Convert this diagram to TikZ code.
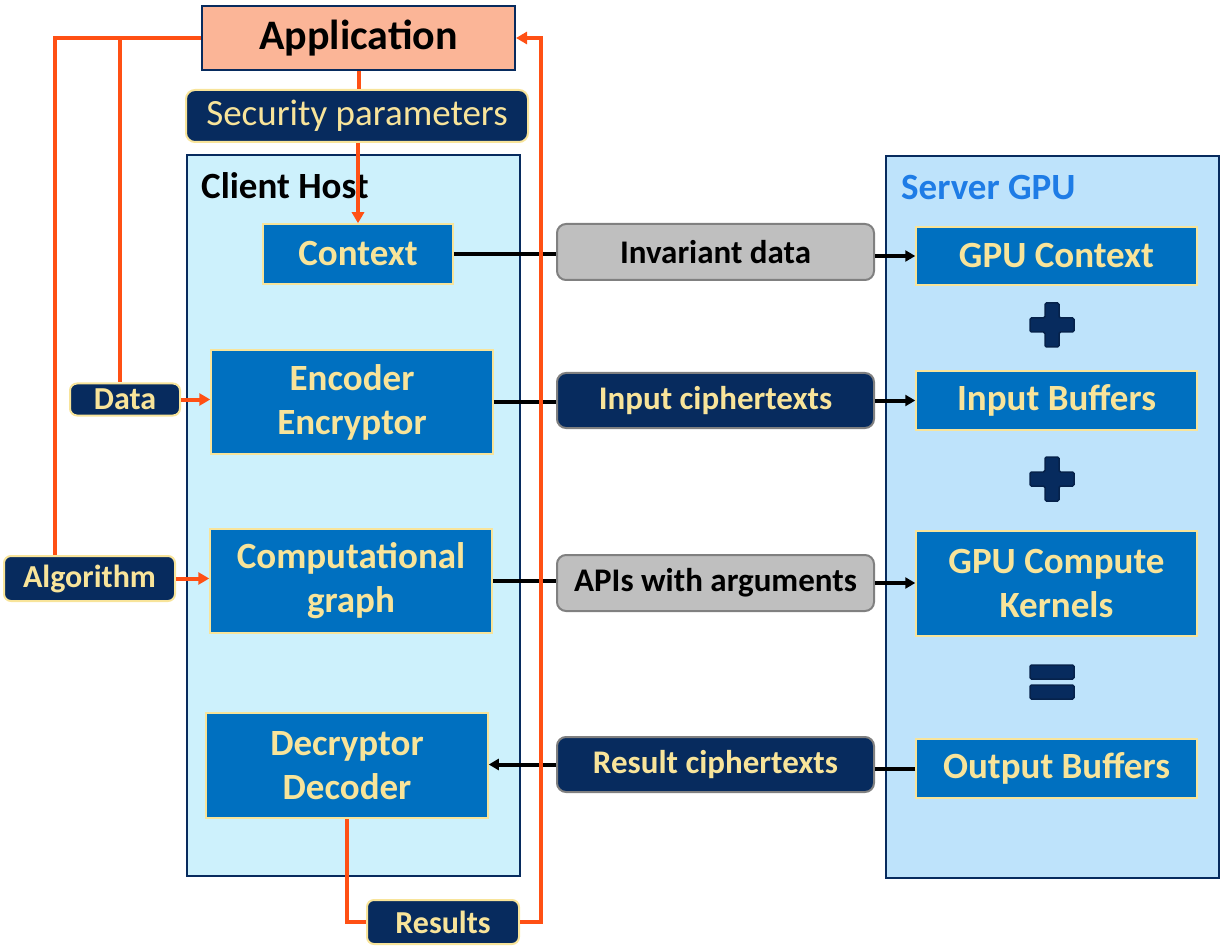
\documentclass[tikz,border=0pt]{standalone}
\usepackage{fontspec}
\setmainfont{Carlito}
\usetikzlibrary{arrows.meta,calc}
\definecolor{appfill}{HTML}{FBB597}
\definecolor{navy}{HTML}{072B5E}
\definecolor{ytext}{HTML}{F8E49A}
\definecolor{boxblue}{HTML}{0070C0}
\definecolor{clientfill}{HTML}{CDF1FC}
\definecolor{serverfill}{HTML}{BEE3FB}
\definecolor{srvlabel}{HTML}{1E7CE6}
\definecolor{orng}{HTML}{FF5014}
\definecolor{grayfill}{HTML}{BFBFBF}
\definecolor{grayline}{HTML}{808080}
\tikzset{
  bluebox/.style={draw=ytext, line width=1.5pt, fill=boxblue, text=ytext, font=\fontsize{37}{44}\selectfont\bfseries, align=center, inner sep=0pt, rectangle},
  tagbox/.style={draw=ytext, line width=2pt, fill=navy, text=ytext, font=\fontsize{32}{38}\selectfont\bfseries, rounded corners=7pt, inner sep=0pt},
  graypill/.style={draw=grayline, line width=2pt, fill=grayfill, text=black, font=\fontsize{33}{38}\selectfont\bfseries, rounded corners=9pt, inner sep=0pt},
  navypill/.style={draw=grayline, line width=2pt, fill=navy, text=ytext, font=\fontsize{33}{38}\selectfont\bfseries, rounded corners=9pt, inner sep=0pt},
  host/.style={draw=navy, line width=2pt, inner sep=0pt},
  oline/.style={draw=orng, line width=4pt},
  bline/.style={draw=black, line width=4pt},
  otip/.style={-{Triangle[length=11pt,width=12pt]}},
  btip/.style={-{Triangle[length=10pt,width=11pt]}},
}
\begin{document}
\begin{tikzpicture}[x=1pt,y=-1pt]
\useasboundingbox (0,0) rectangle (1226,949);

% containers
\node[host, fill=clientfill, minimum width=333pt, minimum height=721pt] (client) at (353.5,515.5) {};
\node[host, fill=serverfill, minimum width=333pt, minimum height=722pt] (server) at (1052.5,517) {};
\node[anchor=west, font=\fontsize{37}{44}\selectfont\bfseries, inner sep=0pt] (clientlbl) at (201,186) {Client Host};
\node[anchor=west, font=\fontsize{37}{44}\selectfont\bfseries, text=srvlabel, inner sep=0pt] (serverlbl) at (901,188) {Server GPU};

% top
\node[draw=navy, line width=2pt, fill=appfill, minimum width=313pt, minimum height=64pt, inner sep=0pt, font=\fontsize{42}{50}\selectfont\bfseries] (app) at (358.5,38) {Application};
\node[draw=ytext, line width=2pt, fill=navy, text=ytext, rounded corners=9pt, minimum width=342pt, minimum height=52pt, inner sep=0pt, font=\fontsize{37}{44}\selectfont] (secp) at (357,116) {Security parameters};

% client boxes
\node[bluebox, minimum width=190pt, minimum height=60pt] (ctx) at (358,254) {Context};
\node[bluebox, minimum width=282pt, minimum height=104pt] (enc) at (352,402) {Encoder\\Encryptor};
\node[bluebox, minimum width=282pt, minimum height=104pt] (comp) at (351,581) {Computational\\graph};
\node[bluebox, minimum width=282pt, minimum height=105pt] (dec) at (347,765.5) {Decryptor\\Decoder};

% tags
\node[tagbox, minimum width=110pt, minimum height=32pt] (data) at (125,399.5) {Data};
\node[tagbox, minimum width=171pt, minimum height=45pt] (alg) at (89.5,578.5) {Algorithm};
\node[tagbox, minimum width=152pt, minimum height=44pt] (res) at (443,922) {Results};

% server boxes
\node[bluebox, minimum width=281pt, minimum height=58pt] (gpuctx) at (1056.5,256) {GPU Context};
\node[bluebox, minimum width=281pt, minimum height=59pt] (inbuf) at (1056.5,400.5) {Input Buffers};
\node[bluebox, minimum width=281pt, minimum height=105pt] (kern) at (1056.5,583.5) {GPU Compute\\Kernels};
\node[bluebox, minimum width=281pt, minimum height=59pt] (outbuf) at (1056.5,768.5) {Output Buffers};

% middle pills
\node[graypill, minimum width=317pt, minimum height=56pt] (inv) at (715.5,252) {Invariant data};
\node[navypill, minimum width=317pt, minimum height=55pt] (inct) at (715.5,400.5) {Input ciphertexts};
\node[graypill, minimum width=317pt, minimum height=56pt] (apis) at (715.5,583) {APIs with arguments};
\node[navypill, minimum width=317pt, minimum height=55pt] (resct) at (715.5,764.5) {Result ciphertexts};

% plus and equals signs
\filldraw[fill=navy, draw=navy!80!black, line width=1.5pt, rounded corners=1.5pt]
  (1045,303) -- (1059,303) -- (1059,318) -- (1074,318) -- (1074,332) -- (1059,332) -- (1059,347) -- (1045,347) -- (1045,332) -- (1030,332) -- (1030,318) -- (1045,318) -- cycle;
\filldraw[fill=navy, draw=navy!80!black, line width=1.5pt, rounded corners=1.5pt]
  (1045,457) -- (1059,457) -- (1059,472) -- (1074,472) -- (1074,486) -- (1059,486) -- (1059,501) -- (1045,501) -- (1045,486) -- (1030,486) -- (1030,472) -- (1045,472) -- cycle;
\filldraw[fill=navy, draw=navy!80!black, line width=1.5pt, rounded corners=1.5pt] (1030,665) rectangle (1074,679);
\filldraw[fill=navy, draw=navy!80!black, line width=1.5pt, rounded corners=1.5pt] (1030,685) rectangle (1074,699);

% black connectors
\draw[bline] (ctx.east) -- (ctx.east -| inv.west);
\draw[bline, btip] (inv.east |- gpuctx.west) -- (gpuctx.west);
\draw[bline] (enc.east) -- (enc.east -| inct.west);
\draw[bline, btip] (inct.east) -- (inct.east -| inbuf.west);
\draw[bline] (comp.east) -- (comp.east -| apis.west);
\draw[bline, btip] (apis.east) -- (apis.east -| kern.west);
\draw[bline] (outbuf.west) -- (outbuf.west -| resct.east);
\draw[bline, btip] (resct.west) -- (resct.west -| dec.east);

% orange connectors
\coordinate (rr) at (541,38);
\draw[oline] (app.west) -| ([xshift=-34.5pt]alg.north);
\draw[oline] ([xshift=-80pt]app.west) -| ([xshift=-5pt]data.north);
\draw[oline] (app.south) -- (app.south |- secp.north);
\draw[oline, otip] (secp.south -| ctx.north) -- (ctx.north);
\draw[oline, otip] (data.east) -- (data.east -| enc.west);
\draw[oline, otip] (alg.east) -- (alg.east -| comp.west);
\draw[oline] (dec.south) |- (res.west);
\draw[oline, otip] (res.east) -| (rr) -- (app.east);
\end{tikzpicture}
\end{document}
